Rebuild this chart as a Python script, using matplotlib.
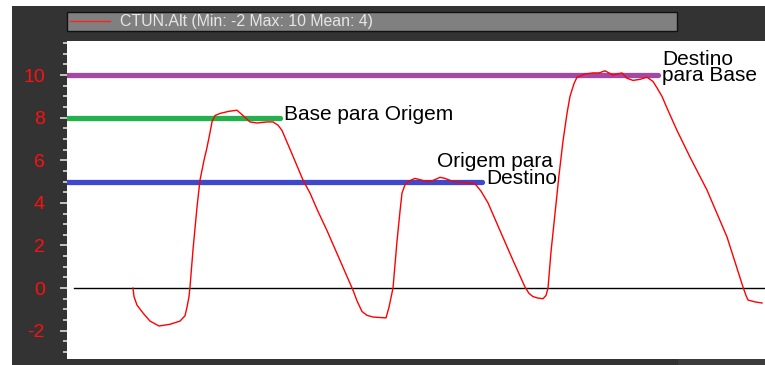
#CTUN.Alt altitude log with the leg target altitudes drawn over it

import matplotlib
matplotlib.use("Agg")
from matplotlib import pyplot as plt
from matplotlib.patches import Rectangle
from matplotlib.lines import Line2D

plt.rcParams['font.family'] = ['Liberation Sans', 'DejaVu Sans']
plt.rcParams['axes.unicode_minus'] = False

#Altitude trace (time, altitude)
t_alt = [66, 67, 70, 76, 83, 92, 103, 113, 118, 120, 122, 123, 126, 130, 133, 137, 140, 143, 145,
         148, 153, 162, 170, 176, 183, 190, 200, 206, 211, 215, 225, 236, 243, 251, 260, 273,
         286, 290, 295, 300, 306, 319, 322, 326, 330, 333, 335, 338, 341, 348, 360, 366, 373,
         378, 386, 398, 408, 414, 421, 433, 446, 458, 462, 466, 471, 476, 479, 481, 484, 488,
         492, 496, 500, 503, 507, 510, 518, 526, 532, 538, 546, 555, 560, 566, 573, 580, 586,
         590, 595, 600, 610, 623, 640, 660, 676, 679, 681, 688, 695]
alt = [0.0, -0.4, -0.8, -1.17, -1.55, -1.78, -1.7, -1.55, -1.3, -0.9, -0.4, 0.05, 1.8, 3.8,
       5.07, 6.0, 6.6, 7.3, 7.8, 8.1, 8.2, 8.3, 8.35, 8.1, 7.8, 7.75, 7.8, 7.8, 7.65, 7.4, 6.3,
       5.07, 4.46, 3.6, 2.7, 1.3, -0.1, -0.6, -1.1, -1.28, -1.36, -1.4, -0.9, 0.0, 2.2,
       3.6, 4.46, 4.85, 5.0, 5.15, 5.0, 5.05, 5.2, 5.15, 5.0, 4.95, 4.9, 4.55, 4.0, 2.7, 1.3,
       0.05, -0.25, -0.4, -0.47, -0.5, -0.35, 0.0, 1.7, 3.5, 5.3, 6.9, 8.2, 9.0, 9.6, 9.9,
       10.05, 10.1, 10.1, 10.2, 10.0, 10.1, 9.85, 9.75, 9.8, 9.9, 9.7, 9.4, 9.0, 8.45, 7.4,
       6.15, 4.6, 2.4, 0.05, -0.35, -0.56, -0.65, -0.7]

#Target altitude of each leg and where its bar ends
leg_names = ["Base para Origem", "Origem para\nDestino", "Destino\npara Base"]
leg_alt = [8, 5, 10]
leg_end = [213, 415, 591]
leg_colors = ["#22b14c", "#3f48cc", "#a349a4"]

legend_text = "CTUN.Alt (Min: -2 Max: 10 Mean: 4)"

W, H = 765, 365
fig = plt.figure(figsize=(W / 100, H / 100), dpi=100, facecolor="white")

#Dark panel behind the plot
fig.patches.append(Rectangle((12 / W, 0), 1 - 12 / W, 1 - 6 / H, transform=fig.transFigure,
                             facecolor="#333333", edgecolor="none", zorder=0))
fig.patches.append(Rectangle((678 / W, 0), 1 - 678 / W, 6 / H, transform=fig.transFigure,
                             facecolor="#3c3c3c", edgecolor="none", zorder=0))

#Legend bar
fig.patches.append(Rectangle((67 / W, 1 - 31 / H), 610 / W, 19 / H, transform=fig.transFigure,
                             facecolor="#808080", edgecolor="#111111", lw=1, zorder=1))
fig.lines.append(Line2D([70 / W, 110 / W], [1 - 21 / H, 1 - 21 / H], transform=fig.transFigure,
                        color="#ff2020", lw=1, zorder=2))
fig.text(120 / W, 1 - 21.5 / H, legend_text, color="#e6e6e6", fontsize=11.4, va="center", ha="left")

ax = fig.add_axes([67 / W, 6 / H, (W - 67) / W, (359 - 41) / H])
ax.set_zorder(5)
ax.set_facecolor("white")
ax.set_xlim(0, 698)
ax.set_ylim(-3.33, 11.6)

ax.axhline(0, xmin=0.01, color="black", lw=1, zorder=1)
ax.plot(t_alt, alt, color="red", lw=1, zorder=3)

for name, a, end, c in zip(leg_names, leg_alt, leg_end, leg_colors):
    ax.plot([0, end], [a, a], color=c, lw=3.8, solid_capstyle="round", zorder=2)

#Leg labels
ax.text(leg_end[0] + 4, leg_alt[0] + 0.15, leg_names[0], fontsize=15, ha="left", va="center")
ax.text(370, 5.95, leg_names[1].split("\n")[0], fontsize=15, ha="left", va="center")
ax.text(leg_end[1] + 4, 5.15, leg_names[1].split("\n")[1], fontsize=15, ha="left", va="center")
ax.text(leg_end[2] + 4, 10.35, leg_names[2], fontsize=15, ha="left", va="center", linespacing=0.8)

ax.set_xticks([])
ax.set_yticks(range(-2, 11, 2))
ax.set_yticks([v / 2 for v in range(-6, 24)], minor=True)
ax.tick_params(axis="y", which="major", colors="#dddddd", length=5, width=1.2,
               labelcolor="#ff1010", labelsize=14, pad=11)
ax.tick_params(axis="y", which="minor", colors="#dddddd", length=3, width=1.2)
for s in ax.spines.values():
    s.set_visible(False)

plt.savefig("out.png", dpi=100, facecolor=fig.get_facecolor())
